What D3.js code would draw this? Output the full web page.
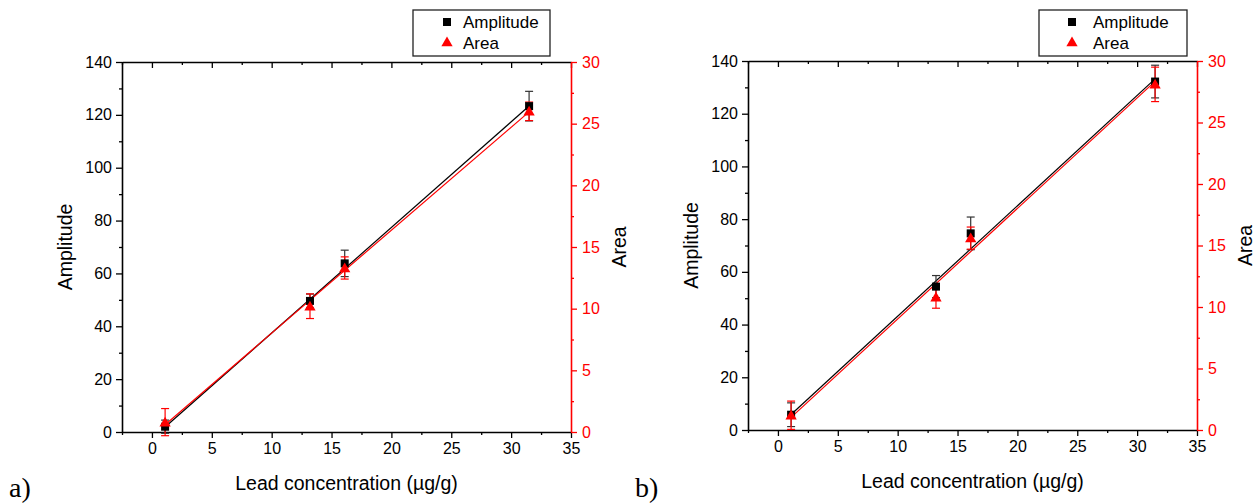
<!DOCTYPE html>
<html>
<head>
<meta charset="utf-8">
<script src="https://cdn.jsdelivr.net/npm/d3@7/dist/d3.min.js"></script>
<style>
  html, body { margin: 0; padding: 0; background: #fff; }
  svg { display: block; font-family: "Liberation Sans", Arial, sans-serif; }
</style>
</head>
<body>
<svg id="chart" width="1260" height="504"></svg>
<script>
// Lead concentration of the standards (µg/g)
const concentration = [1.1, 13.2, 16.1, 31.5];

// Panel a) peak amplitude and area, with standard deviations
const amplitudeA    = [2.0, 49.6, 63.8, 123.3];
const amplitudeErrA = [2.5, 2.6, 5.0, 5.6];
const areaA         = [0.8, 10.2, 13.3, 26.0];
const areaErrA      = [1.1, 1.0, 0.9, 0.75];

// Panel b) peak amplitude and area, with standard deviations
const amplitudeB    = [5.8, 54.4, 74.6, 132.2];
const amplitudeErrB = [4.5, 4.2, 6.2, 6.2];
const areaB         = [1.2, 10.8, 15.6, 28.1];
const areaErrB      = [1.15, 0.9, 0.9, 1.4];

// Axis ticks
const xTicks         = [0, 5, 10, 15, 20, 25, 30, 35];
const xMinorTicks    = [-2.5, 2.5, 7.5, 12.5, 17.5, 22.5, 27.5, 32.5];
const ampTicks       = [0, 20, 40, 60, 80, 100, 120, 140];
const ampMinorTicks  = [10, 30, 50, 70, 90, 110, 130];
const areaTicks      = [0, 5, 10, 15, 20, 25, 30];
const areaMinorTicks = [2.5, 7.5, 12.5, 17.5, 22.5, 27.5];

const seriesNames = ["Amplitude", "Area"];
const xTitle = "Lead concentration (µg/g)";

const RED = "#ff0000";
const svg = d3.select("#chart");

// straight-line fit weighted by 1/sd^2 (instrumental weighting)
function fit(xs, ys, sd) {
  const w = sd.map(s => 1 / (s * s));
  const W = d3.sum(w);
  const mx = d3.sum(xs, (x, i) => w[i] * x) / W;
  const my = d3.sum(ys, (y, i) => w[i] * y) / W;
  const sxy = d3.sum(xs, (x, i) => w[i] * (x - mx) * (ys[i] - my));
  const sxx = d3.sum(xs, (x, i) => w[i] * (x - mx) * (x - mx));
  const b = sxy / sxx;
  return x => my + b * (x - mx);
}

const triangle = d3.symbol().type(d3.symbolTriangle).size(55);

function drawPanel(p) {
  const g = svg.append("g");
  const x = d3.scaleLinear().domain([-2.5, 35]).range([p.left, p.right]);
  const yA = d3.scaleLinear().domain([0, 140]).range([p.bottom, p.top]);
  const yR = d3.scaleLinear().domain([0, 30]).range([p.bottom, p.top]);

  const font = "16px";

  // bottom axis (ticks outward)
  const bottom = g.append("g").attr("transform", `translate(0,${p.bottom})`)
    .call(d3.axisBottom(x).tickValues(xTicks).tickSize(6).tickPadding(5).tickSizeOuter(0));
  bottom.append("g").call(d3.axisBottom(x).tickValues(xMinorTicks).tickSize(3).tickFormat("").tickSizeOuter(0))
    .select(".domain").remove();
  // top axis (ticks inward)
  const top = g.append("g").attr("transform", `translate(0,${p.top})`)
    .call(d3.axisBottom(x).tickValues(xTicks).tickSize(6).tickFormat("").tickSizeOuter(0));
  top.append("g").call(d3.axisBottom(x).tickValues(xMinorTicks).tickSize(3).tickFormat("").tickSizeOuter(0))
    .select(".domain").remove();

  // left amplitude axis
  const left = g.append("g").attr("transform", `translate(${p.left},0)`)
    .call(d3.axisLeft(yA).tickValues(ampTicks).tickSize(6).tickPadding(4).tickSizeOuter(0));
  left.append("g").call(d3.axisLeft(yA).tickValues(ampMinorTicks).tickSize(3).tickFormat("").tickSizeOuter(0))
    .select(".domain").remove();

  // right area axis, in red
  const right = g.append("g").attr("transform", `translate(${p.right},0)`)
    .call(d3.axisRight(yR).tickValues(areaTicks).tickSize(6).tickPadding(5).tickSizeOuter(0));
  right.append("g").call(d3.axisRight(yR).tickValues(areaMinorTicks).tickSize(3).tickFormat("").tickSizeOuter(0))
    .select(".domain").remove();
  right.selectAll("line, path").attr("stroke", RED);
  right.selectAll("text").attr("fill", RED);

  g.selectAll(".domain").attr("stroke-width", 1.6);
  g.selectAll(".tick line").attr("stroke-width", 1.3);
  g.selectAll(".tick text").style("font-size", font).style("font-family", "Liberation Sans, Arial, sans-serif");
  left.selectAll(".tick text").attr("fill", "#000");
  bottom.selectAll(".tick text").attr("fill", "#000");

  // axis titles
  g.append("text").attr("x", (p.left + p.right) / 2).attr("y", p.bottom + 58)
    .attr("text-anchor", "middle").style("font-size", "19.5px").text(xTitle);
  g.append("text").attr("transform", `translate(${p.left - 50},${(p.top + p.bottom) / 2}) rotate(-90)`)
    .attr("text-anchor", "middle").style("font-size", "19.5px").text(seriesNames[0]);
  g.append("text").attr("transform", `translate(${p.right + 55},${(p.top + p.bottom) / 2}) rotate(-90)`)
    .attr("text-anchor", "middle").style("font-size", "19.5px").text(seriesNames[1]);

  // panel letter
  g.append("text").attr("x", p.letterX).attr("y", 497)
    .style("font-family", "Liberation Serif, Times New Roman, serif").style("font-size", "28px")
    .text(p.letter);

  const xs = concentration;
  const xEnds = d3.extent(xs);

  // fitted lines
  const fa = fit(xs, p.amp, p.ampErr), fr = fit(xs, p.area, p.areaErr);
  g.append("line")
    .attr("x1", x(xEnds[0])).attr("y1", yA(fa(xEnds[0])))
    .attr("x2", x(xEnds[1])).attr("y2", yA(fa(xEnds[1])))
    .attr("stroke", "#000").attr("stroke-width", 1.2);
  g.append("line")
    .attr("x1", x(xEnds[0])).attr("y1", yR(fr(xEnds[0])))
    .attr("x2", x(xEnds[1])).attr("y2", yR(fr(xEnds[1])))
    .attr("stroke", RED).attr("stroke-width", 1.2);

  // error bars
  function errorBars(vals, errs, y, color) {
    const eb = g.append("g").attr("stroke", color).attr("stroke-width", 1.2);
    xs.forEach((cx, i) => {
      const px = x(cx), y0 = y(vals[i] - errs[i]), y1 = y(vals[i] + errs[i]);
      eb.append("line").attr("x1", px).attr("x2", px).attr("y1", y0).attr("y2", y1);
      eb.append("line").attr("x1", px - 4).attr("x2", px + 4).attr("y1", y0).attr("y2", y0);
      eb.append("line").attr("x1", px - 4).attr("x2", px + 4).attr("y1", y1).attr("y2", y1);
    });
  }
  errorBars(p.amp, p.ampErr, yA, "#333");
  errorBars(p.area, p.areaErr, yR, RED);

  // markers
  g.append("g").selectAll("rect").data(xs).join("rect")
    .attr("x", (d) => x(d) - 4).attr("y", (d, i) => yA(p.amp[i]) - 4)
    .attr("width", 8).attr("height", 8).attr("fill", "#000");
  g.append("g").selectAll("path").data(xs).join("path")
    .attr("d", triangle)
    .attr("transform", (d, i) => `translate(${x(d)},${yR(p.area[i]) + 1})`)
    .attr("fill", RED);

  // legend
  const lg = g.append("g").attr("transform", `translate(${p.legX},${p.legY})`);
  lg.append("rect").attr("x", 0).attr("y", 0).attr("width", p.legW).attr("height", 46)
    .attr("fill", "#fff").attr("stroke", "#222").attr("stroke-width", 1.3);
  lg.append("rect").attr("x", p.legMark - 4).attr("y", 8).attr("width", 8).attr("height", 8).attr("fill", "#000");
  lg.append("path").attr("d", triangle).attr("transform", `translate(${p.legMark},33)`).attr("fill", RED);
  lg.selectAll("text.leg").data(seriesNames).join("text").attr("class", "leg")
    .attr("x", p.legText).attr("y", (d, i) => 18 + i * 21)
    .style("font-size", "17px").text(d => d);
}

drawPanel({
  left: 122, right: 571, top: 62, bottom: 432,
  amp: amplitudeA, ampErr: amplitudeErrA, area: areaA, areaErr: areaErrA,
  letter: "a)", letterX: 9, legX: 413, legY: 10, legW: 137, legMark: 34, legText: 50
});
drawPanel({
  left: 748, right: 1197, top: 61, bottom: 430,
  amp: amplitudeB, ampErr: amplitudeErrB, area: areaB, areaErr: areaErrB,
  letter: "b)", letterX: 635, legX: 1039, legY: 10, legW: 148, legMark: 33, legText: 54
});
</script>
</body>
</html>
